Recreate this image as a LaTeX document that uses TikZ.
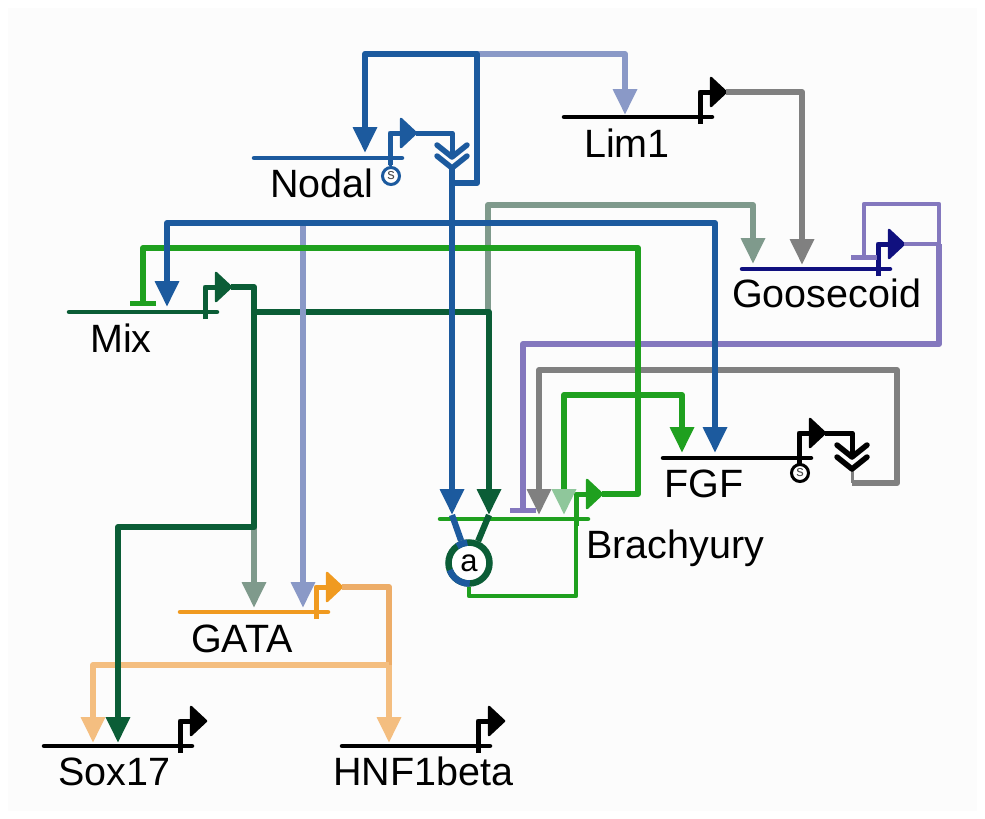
\documentclass[tikz,border=0pt]{standalone}
\usepackage{fontspec}
\setmainfont{Liberation Sans}
\usetikzlibrary{arrows.meta}
\definecolor{pagewhite}{HTML}{FCFCFC}
\definecolor{nodalblue}{HTML}{1C5A9E}
\definecolor{mixgreen}{HTML}{0B5D36}
\definecolor{brachygreen}{HTML}{1FA01F}
\definecolor{palegreen}{HTML}{8FC79B}
\definecolor{lightblue}{HTML}{8A99C7}
\definecolor{sage}{HTML}{7F9A8C}
\definecolor{gscpurple}{HTML}{8478BE}
\definecolor{gscnavy}{HTML}{10107F}
\definecolor{midgray}{HTML}{808080}
\definecolor{gataorange}{HTML}{F09A20}
\definecolor{softorange}{HTML}{EDAD68}
\definecolor{paleorange}{HTML}{F4BE80}
\tikzset{
  wire/.style={line width=6.2pt, line join=round},
  activ/.style={wire, -{Triangle[length=26pt, width=23pt]}},
  repress/.style={wire, -{Bar[width=26pt, line width=5.5pt]}},
  genelabel/.style={font=\fontsize{39.5}{39.5}\selectfont, anchor=base west, inner sep=0pt},
  spot/.style={circle, draw, fill=white, line width=3pt, inner sep=0pt, minimum size=17pt,
    font=\fontsize{15}{15}\selectfont}
}

\begin{document}
\begin{tikzpicture}[x=1pt, y=-1pt]
  \fill[white] (0,0) rectangle (985,819);
  \fill[pagewhite] (8,8) rectangle (977,811);

  % genes: line, bent promoter, label
  \foreach \gene/\gx/\gy/\clr/\lx/\ly/\txt in {
    nodal/252/158/nodalblue/270/197/Nodal,
    lim/562/117/black/584/157/Lim1,
    gsc/740/269/gscnavy/732/307/Goosecoid,
    mix/67/312/mixgreen/90/352/Mix,
    fgf/661/458/black/664/497/FGF,
    brachy/438/519/brachygreen/586/558/Brachyury,
    gata/178/612/gataorange/191/652/GATA,
    sox/42/746/black/58/785/Sox17,
    hnf/340/746/black/333/785/HNF1beta} {
    \draw[\clr, line width=4.5pt, line cap=round] (\gx+2,\gy) -- (\gx+150,\gy);
    \draw[\clr, line width=5pt, line join=round] (\gx+138,\gy+7) -- (\gx+138,\gy-25) -- (\gx+150,\gy-25);
    \fill[\clr, draw=\clr, line width=2.5pt, line join=round]
      (\gx+149,\gy-39) -- (\gx+164,\gy-25) -- (\gx+149,\gy-11) -- cycle;
    \coordinate (\gene-tip) at (\gx+164,\gy-25);
    \coordinate (\gene-foot) at (\gx+138,\gy);
    \node[genelabel] (\gene-label) at (\lx,\ly) {\txt};
  }
  \node[spot, draw=nodalblue, text=black!70] (nodal-s) at (391,176) {s};
  \node[spot, draw=black, text=black!70] (fgf-s) at (800,473) {s};
  \draw[nodalblue, line width=3pt] (nodal-foot) -- (nodal-s);
  \draw[black, line width=3pt] (fgf-foot) -- (fgf-s);

  % junctions and arrow ends
  \coordinate (nodal-loop) at (452,183);
  \coordinate (loop-right) at (477,54);
  \coordinate (nodal-in) at (365,153);
  \coordinate (lim-in) at (625,115);
  \coordinate (nodal-chev) at (452,157);
  \coordinate (nodal-chevb) at (452,168);
  \coordinate (blue-hub) at (452,223);
  \coordinate (blue-tap) at (303,223);
  \coordinate (mix-in) at (167,307);
  \coordinate (fgf-inb) at (715,453);
  \coordinate (fgf-ina) at (682,453);
  \coordinate (brachy-ina) at (452,515);
  \coordinate (brachy-inb) at (489,515);
  \coordinate (brachy-bar) at (523,513);
  \coordinate (brachy-inc) at (539,515);
  \coordinate (brachy-ind) at (564,515);
  \coordinate (green-top) at (638,248);
  \coordinate (green-mid) at (638,395);
  \coordinate (mix-bar) at (143,306);
  \coordinate (mix-hub) at (254,312);
  \coordinate (mix-turn) at (254,527);
  \coordinate (sox-inb) at (118,743);
  \coordinate (sox-ina) at (93,743);
  \coordinate (hnf-in) at (389,743);
  \coordinate (gata-ina) at (254,608);
  \coordinate (gata-inb) at (303,608);
  \coordinate (orange-hub) at (389,665);
  \coordinate (sage-foot) at (488,312);
  \coordinate (sage-top) at (753,205);
  \coordinate (gsc-ina) at (753,264);
  \coordinate (gsc-inb) at (802,265);
  \coordinate (gsc-out) at (939,244);
  \coordinate (gsc-bar) at (864,260);
  \coordinate (purple-top) at (864,204);
  \coordinate (purple-low) at (523,344);
  \coordinate (gray-top) at (897,370);
  \coordinate (fgf-chev) at (852,457);
  \coordinate (fgf-chevb) at (852,469);
  \coordinate (fgf-out) at (852,483);
  \coordinate (ring-foot) at (576,596);

  % links, back to front
  \draw[activ, sage] (sage-foot) |- (sage-top) -- (gsc-ina);
  \draw[activ, sage] (mix-turn) -- (gata-ina);
  \draw[wire, gscpurple, line width=4pt] (gsc-tip) -- (gsc-out);
  \draw[repress, gscpurple] (gsc-out) |- (purple-low) -- (brachy-bar);
  \draw[repress, gscpurple, line width=4.5pt] (gsc-out) |- (purple-top) -- (gsc-bar);
  \draw[activ, midgray] (lim-tip) -| (gsc-inb);
  \draw[wire, midgray, line width=3pt] (fgf-chevb) -- (fgf-out);
  \draw[activ, midgray] (fgf-out) -| (gray-top) -| (brachy-inc);
  \draw[wire, softorange] (gata-tip) -| (orange-hub);
  \draw[activ, paleorange] (orange-hub) -| (sox-ina);
  \draw[activ, paleorange] (orange-hub) -- (hnf-in);
  \draw[activ, mixgreen] (mix-tip) -| (mix-turn) -| (sox-inb);
  \draw[activ, mixgreen] (mix-hub) -| (brachy-inb);
  \draw[activ, lightblue] (blue-tap) -- (gata-inb);
  \draw[activ, lightblue] (loop-right) -| (lim-in);
  \draw[repress, brachygreen] (brachy-tip) -| (green-top) -| (mix-bar);
  \draw[activ, brachygreen] (green-mid) -| (fgf-ina);
  \draw[wire, brachygreen, -{Triangle[length=26pt, width=23pt, color=palegreen]}] (green-mid) -| (brachy-ind);
  \draw[activ, nodalblue] (nodal-loop) -| (loop-right) -| (nodal-in);
  \draw[activ, nodalblue] (nodal-chevb) -- (brachy-ina);
  \draw[activ, nodalblue] (blue-hub) -| (mix-in);
  \draw[activ, nodalblue] (blue-hub) -| (fgf-inb);

  % downstream chevrons
  \foreach \gene/\clr in {nodal/nodalblue, fgf/black} {
    \draw[wire, \clr, line width=5pt] (\gene-tip) -| (\gene-chev);
    \draw[\clr, line width=5.5pt, line cap=round, line join=round] (\gene-chev) ++(-15,-12) -- ++(15,12) -- ++(15,-12);
    \draw[\clr, line width=5.5pt, line cap=round, line join=round] (\gene-chevb) ++(-15,-12) -- ++(15,12) -- ++(15,-12);
  }

  % autoactivation ring below Brachyury
  \node[circle, draw=mixgreen, fill=white, line width=6.5pt, inner sep=0pt, minimum size=41pt,
    font=\fontsize{31}{31}\selectfont] (ring) at (469,563) {a};
  \draw[nodalblue, line width=6.5pt] (ring.center) ++(95:20.5pt) arc[start angle=95, end angle=125, radius=20.5pt];
  \draw[nodalblue, line width=6.5pt] (ring.center) ++(200:20.5pt) arc[start angle=200, end angle=272, radius=20.5pt];
  \draw[wire, nodalblue] (brachy-ina) -- (ring);
  \draw[wire, mixgreen] (brachy-inb) -- (ring);
  \draw[brachygreen, line width=4.5pt, line join=round] (ring.south) |- (ring-foot) -- (brachy-foot);
\end{tikzpicture}
\end{document}
